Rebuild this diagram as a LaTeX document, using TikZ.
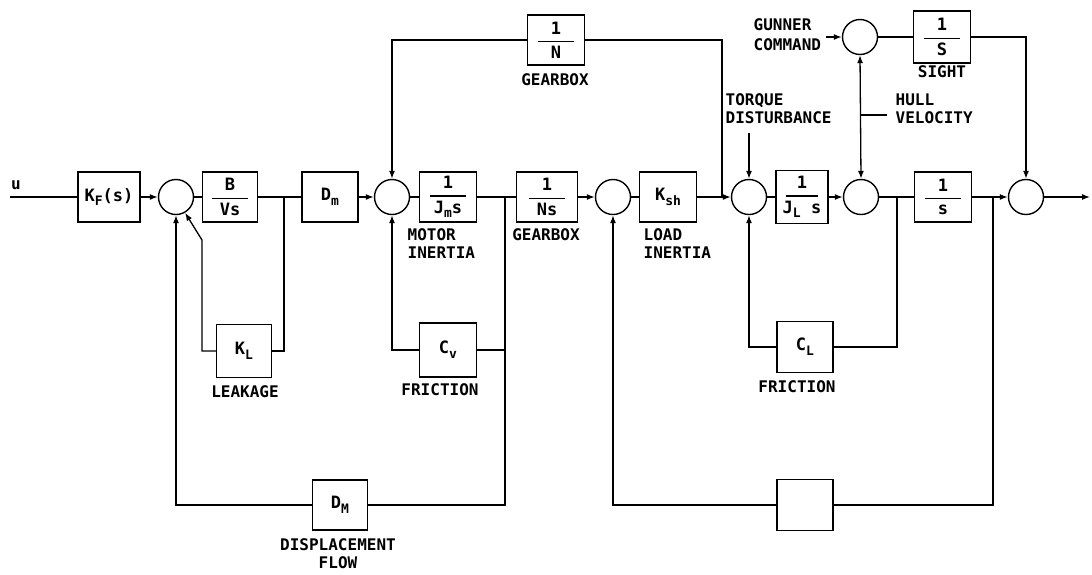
\documentclass[tikz,border=0pt]{standalone}
\usepackage{amsmath}
\usepackage{fontspec}
\usetikzlibrary{arrows.meta}
\newfontfamily\lab{DejaVu Sans Mono Bold}
\newcommand\dn[1]{\raisebox{-0.5ex}{\fontsize{13}{13}\selectfont#1}}
\newcommand\fr[3][36pt]{$\genfrac{}{}{1.3pt}{0}{\makebox[#1]{#2}}{\makebox[#1]{#3}}$}
\begin{document}
\begin{tikzpicture}[x=1pt,y=-1pt,line width=1.3pt,
  >={Latex[length=8pt,width=6pt]},
  font=\lab\fontsize{16}{18}\selectfont,
  blk/.style={draw,line width=1.5pt,inner sep=0pt,minimum width=57pt,minimum height=50pt,font=\lab\fontsize{17}{18}\selectfont},
  sm/.style={circle,draw,line width=1.4pt,inner sep=0pt,minimum size=35pt},
  lbl/.style={inner sep=0pt,align=left},
  lblc/.style={inner sep=0pt,align=center}]
\useasboundingbox (0,0) rectangle (1092,574);
% main row
\coordinate (in) at (10,197);
\node[lbl] (u) at (16,185) {u};
\node[blk,minimum width=62pt] (kf) at (109,197) {K\dn{F}(s)};
\node[sm] (s1) at (176,197) {};
\node[blk,minimum width=55pt] (bv) at (230,197) {\fr{B}{Vs}};
\node[blk,minimum width=56pt] (dm) at (330,197) {D\dn{m}};
\node[sm] (s2) at (392,197) {};
\node[blk] (jm) at (448,197) {\fr{1}{J\dn{m}s}};
\node[blk,minimum width=61pt] (ns) at (547,197) {\fr{1}{Ns}};
\node[sm] (s3) at (613,197) {};
\node[blk] (ksh) at (668,197) {K\dn{sh}};
\node[sm] (s4) at (749,197) {};
\node[blk,minimum width=52pt,minimum height=53pt] (jl) at (802,197) {\fr[32pt]{1}{J\dn{L} s}};
\node[sm] (s5) at (861,197) {};
\node[blk] (is) at (943,197) {\fr{1}{s}};
\node[sm] (s6) at (1026,197) {};
\coordinate (out) at (1090,197);
% junctions
\coordinate (j1) at (284,197);
\coordinate (j2) at (505,197);
\coordinate (j3) at (722,197);
\coordinate (j4) at (897,197);
\coordinate (j5) at (993,197);
% feedback blocks
\node[blk,minimum width=55pt,minimum height=53pt] (kl) at (244,351) {K\dn{L}};
\node[blk,minimum height=54pt] (cv) at (448,350) {C\dn{v}};
\node[blk,minimum width=56pt,minimum height=51pt] (cl) at (805,347) {C\dn{L}};
\node[blk,minimum width=55pt] (dM) at (340,505) {D\dn{M}};
\node[blk,minimum width=56pt,minimum height=51pt] (bl) at (805,505) {};
% top
\node[blk] (gb) at (556,40) {\fr{1}{N}};
\node[sm] (s7) at (860,37) {};
\node[blk,minimum height=52pt] (sight) at (942,37) {\fr{1}{S}};
% labels
\node[lbl,anchor=west] (lmi) at (407,244) {MOTOR\\INERTIA};
\node[lblc] (lgb1) at (546,235) {GEARBOX};
\node[lbl,anchor=west] (lli) at (643,244) {LOAD\\INERTIA};
\node[lblc] (llk) at (245,392) {LEAKAGE};
\node[lblc] (lf1) at (440,390) {FRICTION};
\node[lblc] (lf2) at (797,387) {FRICTION};
\node[lblc] (ldf) at (338,554) {DISPLACEMENT\\FLOW};
\node[lblc] (lgb2) at (555,80) {GEARBOX};
\node[lblc] (lsi) at (942,72) {SIGHT};
\node[lbl,anchor=west,font=\lab\fontsize{16}{20}\selectfont] (lgc) at (753,35) {GUNNER\\COMMAND};
\node[lbl,anchor=west] (ltd) at (725,109) {TORQUE\\DISTURBANCE};
\node[lbl,anchor=west] (lhv) at (895,109) {HULL\\VELOCITY};
\coordinate (gc) at (826,37);
\coordinate (td) at (749,133);
\coordinate (hv) at (887,115);
% main connectors
\draw (in) -- (kf);
\draw[->] (kf) -- (s1);
\draw (s1) -- (bv);
\draw (bv) -- (dm);
\draw[->] (dm) -- (s2);
\draw (s2) -- (jm);
\draw (jm) -- (ns);
\draw[->] (ns) -- (s3);
\draw (s3) -- (ksh);
\draw[->] (ksh) -- (s4);
\draw (s4) -- (jl);
\draw[->] (jl) -- (s5);
\draw (s5) -- (is);
\draw[->] (is) -- (s6);
\draw[->] (s6) -- (out);
% leakage loop
\draw (j1) |- (kl.east);
\draw[->] (kl.west) -| (202,240) -- (s1.-60);
% friction (motor)
\draw (j2) |- (dM.east);
\draw (cv.east) -- (cv.east -| j2);
\draw[->] (cv.west) -| (s2.south);
\draw[->] (dM.west) -| (s1.south);
% top gearbox
\draw (j3) |- (gb.east);
\draw[->] (gb.west) -| (s2.north);
% load friction
\draw (j4) |- (cl.east);
\draw[->] (cl.west) -| (s4.south);
% bottom right loop
\draw (j5) |- (bl.east);
\draw[->] (bl.west) -| (s3.south);
% torque disturbance
\draw[->] (td) -- (s4.north);
% gunner / sight
\draw[->] (gc) -- (s7.west);
\draw (s7) -- (sight);
\draw[->] (sight.east) -| (s6.north);
\draw[<->] (s7.south) -- (s5.north);
\draw (s5.north |- hv) -- (hv);
\end{tikzpicture}
\end{document}
